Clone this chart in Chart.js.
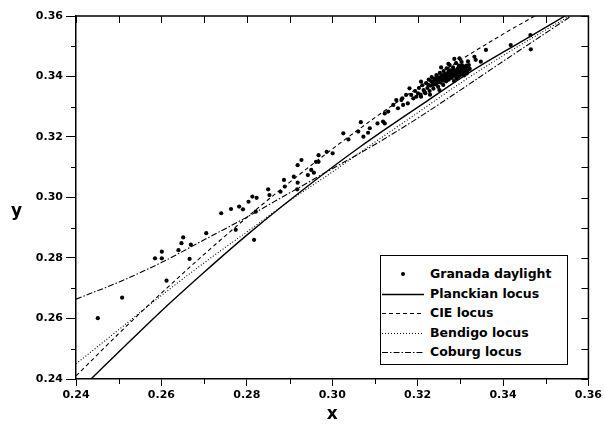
<!DOCTYPE html>
<html>
<head>
<meta charset="utf-8">
<script src="https://cdn.jsdelivr.net/npm/chart.js@4/dist/chart.umd.min.js"></script>
<style>
  html, body { margin: 0; padding: 0; background: #fff; }
  #wrap { position: relative; width: 605px; height: 431px; font-family: "DejaVu Sans", sans-serif; font-weight: bold; color: #000; }
  #yTitle { position: absolute; left: 11px; top: 200px; font-size: 17px; line-height: 20px; }
  #legend { position: absolute; left: 380px; top: 255px; width: 188px; height: 110px; border: 1px solid #000; background: #fff; box-sizing: border-box; }
  #legend .row { position: absolute; left: 0; height: 16px; width: 188px; }
  #legend svg { position: absolute; left: 0; top: 0; }
  #legend span { position: absolute; left: 49px; top: 0; font-size: 12.5px; line-height: 16px; white-space: nowrap; }
</style>
</head>
<body>
<div id="wrap">
  <canvas id="chart" width="605" height="431"></canvas>
  <div id="yTitle">y</div>
  <div id="legend"></div>
</div>
<script>
// axis ticks
const X_MAJOR = [0.24, 0.26, 0.28, 0.30, 0.32, 0.34, 0.36];
const X_MINOR = [0.25, 0.27, 0.29, 0.31, 0.33, 0.35];
const Y_MAJOR = [0.24, 0.26, 0.28, 0.30, 0.32, 0.34, 0.36];
const Y_MINOR = [0.25, 0.27, 0.29, 0.31, 0.33, 0.35];

const daylightX = [
  0.2451, 0.2508, 0.2585, 0.2601, 0.2601, 0.2612, 0.2640, 0.2647, 0.2651, 0.2669,
  0.2666, 0.2705, 0.2740, 0.2763, 0.2774, 0.2782, 0.2791, 0.2804, 0.2813, 0.2817,
  0.2821, 0.2823, 0.2850, 0.2853, 0.2879, 0.2887, 0.2889, 0.2910, 0.2918, 0.2919,
  0.2919, 0.2928, 0.2943, 0.2951, 0.2957, 0.2962, 0.2968, 0.2968, 0.2987, 0.3001,
  0.3026, 0.3038, 0.3061, 0.3067, 0.3073, 0.3084, 0.3088, 0.3106, 0.3119, 0.3123,
  0.3123, 0.3131, 0.3143, 0.3150, 0.3154, 0.3162, 0.3164, 0.3166, 0.3173, 0.3177,
  0.3181, 0.3185, 0.3197, 0.3201, 0.3208, 0.3208, 0.3216, 0.3190, 0.3194, 0.3203,
  0.3207, 0.3211, 0.3214, 0.3218, 0.3220, 0.3223, 0.3226, 0.3228, 0.3229, 0.3230,
  0.3233, 0.3235, 0.3237, 0.3240, 0.3242, 0.3244, 0.3246, 0.3248, 0.3250, 0.3251,
  0.3252, 0.3254, 0.3255, 0.3256, 0.3258, 0.3260, 0.3261, 0.3263, 0.3265, 0.3267,
  0.3268, 0.3270, 0.3272, 0.3272, 0.3273, 0.3275, 0.3277, 0.3278, 0.3280, 0.3282,
  0.3283, 0.3285, 0.3286, 0.3287, 0.3288, 0.3290, 0.3291, 0.3293, 0.3294, 0.3296,
  0.3297, 0.3298, 0.3299, 0.3300, 0.3302, 0.3303, 0.3305, 0.3306, 0.3308, 0.3309,
  0.3311, 0.3313, 0.3315, 0.3317, 0.3318, 0.3320, 0.3322, 0.3333, 0.3336, 0.3348,
  0.3360, 0.3418, 0.3464, 0.3465,
  0.3245, 0.3249, 0.3253, 0.3257, 0.3259, 0.3262, 0.3264, 0.3266, 0.3269, 0.3271,
  0.3274, 0.3276, 0.3279, 0.3281, 0.3284, 0.3289, 0.3292, 0.3295, 0.3301, 0.3304,
  0.3307, 0.3310, 0.3236, 0.3239, 0.3243, 0.3314, 0.3316, 0.3319, 0.3225, 0.3232
];
const daylightY = [
  0.2601, 0.2669, 0.2799, 0.2799, 0.2821, 0.2725, 0.2826, 0.2849, 0.2868, 0.2844,
  0.2797, 0.2882, 0.2948, 0.2962, 0.2893, 0.2970, 0.2961, 0.2986, 0.3003, 0.2860,
  0.2953, 0.2999, 0.3027, 0.3008, 0.3019, 0.3058, 0.3036, 0.3069, 0.3027, 0.3107,
  0.3049, 0.3124, 0.3074, 0.3091, 0.3082, 0.3118, 0.3140, 0.3118, 0.3151, 0.3146,
  0.3212, 0.3192, 0.3218, 0.3249, 0.3201, 0.3214, 0.3229, 0.3245, 0.3251, 0.3245,
  0.3278, 0.3284, 0.3306, 0.3322, 0.3295, 0.3322, 0.3328, 0.3306, 0.3339, 0.3311,
  0.3361, 0.3339, 0.3333, 0.3344, 0.3333, 0.3383, 0.3350, 0.3328, 0.3352, 0.3362,
  0.3340, 0.3371, 0.3355, 0.3345, 0.3378, 0.3362, 0.3390, 0.3352, 0.3340, 0.3370,
  0.3398, 0.3381, 0.3360, 0.3392, 0.3374, 0.3405, 0.3385, 0.3366, 0.3397, 0.3355,
  0.3412, 0.3380, 0.3430, 0.3402, 0.3390, 0.3372, 0.3418, 0.3396, 0.3408, 0.3384,
  0.3427, 0.3400, 0.3414, 0.3442, 0.3390, 0.3438, 0.3405, 0.3420, 0.3395, 0.3410,
  0.3430, 0.3385, 0.3458, 0.3402, 0.3418, 0.3444, 0.3394, 0.3412, 0.3427, 0.3400,
  0.3436, 0.3460, 0.3415, 0.3405, 0.3426, 0.3448, 0.3410, 0.3420, 0.3433, 0.3404,
  0.3415, 0.3428, 0.3410, 0.3421, 0.3450, 0.3438, 0.3425, 0.3465, 0.3455, 0.3449,
  0.3488, 0.3504, 0.3537, 0.3490,
  0.3378, 0.3392, 0.3388, 0.3395, 0.3405, 0.3386, 0.3402, 0.3395, 0.3410, 0.3393,
  0.3420, 0.3398, 0.3412, 0.3404, 0.3422, 0.3407, 0.3420, 0.3413, 0.3417, 0.3437,
  0.3424, 0.3422, 0.3372, 0.3388, 0.3395, 0.3436, 0.3418, 0.3430, 0.3372, 0.3384
];

// loci
const planckX = [0.2435, 0.2500, 0.2600, 0.2700, 0.2807, 0.2952, 0.3064, 0.3135, 0.3221, 0.3330, 0.3451, 0.3545];
const planckY = [0.2400, 0.2489, 0.2625, 0.2753, 0.2884, 0.3048, 0.3166, 0.3236, 0.3318, 0.3421, 0.3522, 0.3600];
const cieX = [0.2400, 0.2500, 0.2600, 0.2700, 0.2800, 0.2900, 0.3000, 0.3100, 0.3200, 0.3300, 0.3400, 0.3474];
const cieY = [0.2410, 0.2550, 0.2684, 0.2812, 0.2934, 0.3050, 0.3160, 0.3264, 0.3362, 0.3454, 0.3540, 0.3600];
const bendigoX = [0.2400, 0.2500, 0.2600, 0.2700, 0.2800, 0.2900, 0.3000, 0.3100, 0.3200, 0.3300, 0.3400, 0.3555];
const bendigoY = [0.2450, 0.2563, 0.2676, 0.2784, 0.2886, 0.2989, 0.3084, 0.3183, 0.3280, 0.3378, 0.3469, 0.3600];
const coburgX = [0.2400, 0.2500, 0.2600, 0.2700, 0.2800, 0.2900, 0.3000, 0.3100, 0.3200, 0.3300, 0.3400, 0.3560];
const coburgY = [0.2664, 0.2720, 0.2785, 0.2860, 0.2935, 0.3015, 0.3095, 0.3175, 0.3262, 0.3355, 0.3450, 0.3600];

const FONT = 'DejaVu Sans';
const zip = (xs, ys) => xs.map((v, i) => ({ x: v, y: ys[i] }));

function lineSet(label, xs, ys, dash, width) {
  return {
    label,
    data: zip(xs, ys),
    showLine: true,
    borderColor: '#000',
    borderWidth: width || 1,
    borderDash: dash,
    pointRadius: 0,
    cubicInterpolationMode: 'monotone',
    fill: false
  };
}

const datasets = [
  {
    label: 'Granada daylight',
    data: zip(daylightX, daylightY),
    pointRadius: 2.1,
    pointBackgroundColor: '#000',
    pointBorderWidth: 0,
    showLine: false
  },
  lineSet('Planckian locus', planckX, planckY, [], 1.4),
  lineSet('CIE locus', cieX, cieY, [4, 3], 1.1),
  lineSet('Bendigo locus', bendigoX, bendigoY, [1, 2], 1.1),
  lineSet('Coburg locus', coburgX, coburgY, [6, 2, 1.5, 2], 1.1)
];

// top/right frame, inward ticks there, and short minor ticks outside
const framePlugin = {
  id: 'frame',
  afterDraw(chart) {
    const { ctx, chartArea: a, scales: { x, y } } = chart;
    ctx.save();
    ctx.strokeStyle = '#000';
    ctx.lineWidth = 1.5;
    ctx.beginPath();
    ctx.moveTo(a.left, a.top);
    ctx.lineTo(a.right, a.top);
    ctx.lineTo(a.right, a.bottom);
    ctx.stroke();
    ctx.lineWidth = 1;
    ctx.beginPath();
    X_MAJOR.concat(X_MINOR).forEach((v) => {
      const px = Math.round(x.getPixelForValue(v)) + 0.5;
      ctx.moveTo(px, a.top); ctx.lineTo(px, a.top + 7);
    });
    X_MINOR.forEach((v) => {
      const px = Math.round(x.getPixelForValue(v)) + 0.5;
      ctx.moveTo(px, a.bottom); ctx.lineTo(px, a.bottom + 5);
    });
    Y_MAJOR.concat(Y_MINOR).forEach((v) => {
      const py = Math.round(y.getPixelForValue(v)) + 0.5;
      ctx.moveTo(a.right, py); ctx.lineTo(a.right - 7, py);
    });
    Y_MINOR.forEach((v) => {
      const py = Math.round(y.getPixelForValue(v)) + 0.5;
      ctx.moveTo(a.left, py); ctx.lineTo(a.left - 5, py);
    });
    ctx.stroke();
    ctx.restore();
  }
};

new Chart(document.getElementById('chart'), {
  type: 'scatter',
  data: { datasets },
  options: {
    responsive: false,
    animation: false,
    devicePixelRatio: 1,
    layout: { padding: { top: 16, right: 13, left: 0, bottom: 0 } },
    plugins: { legend: { display: false }, tooltip: { enabled: false } },
    scales: {
      x: {
        type: 'linear',
        min: 0.24,
        max: 0.36,
        afterFit: (s) => { s.height = 52; },
        afterBuildTicks: (s) => { s.ticks = X_MAJOR.map((v) => ({ value: v })); },
        ticks: { callback: (v) => Number(v).toFixed(2), color: '#000', padding: 3, maxRotation: 0,
                 font: { family: FONT, size: 11, weight: 'bold' } },
        grid: { drawOnChartArea: false, tickLength: 7, color: '#000' },
        border: { color: '#000', width: 1.5 },
        title: { display: true, text: 'x', color: '#000', padding: { top: 0, bottom: 6 },
                 font: { family: FONT, size: 17, weight: 'bold' } }
      },
      y: {
        type: 'linear',
        min: 0.24,
        max: 0.36,
        afterFit: (s) => { s.width = 76; },
        afterBuildTicks: (s) => { s.ticks = Y_MAJOR.map((v) => ({ value: v })); },
        ticks: { callback: (v) => Number(v).toFixed(2), color: '#000', padding: 3,
                 font: { family: FONT, size: 11, weight: 'bold' } },
        grid: { drawOnChartArea: false, tickLength: 10, color: '#000' },
        border: { color: '#000', width: 1.5 }
      }
    }
  },
  plugins: [framePlugin]
});

// legend box inside the plot
const legendRows = [
  { label: 'Granada daylight', kind: 'dot' },
  { label: 'Planckian locus', dash: '', w: 1.4 },
  { label: 'CIE locus', dash: '4 3', w: 1.1 },
  { label: 'Bendigo locus', dash: '1 2', w: 1.1 },
  { label: 'Coburg locus', dash: '6 2 1.5 2', w: 1.1 }
];
const rowCenters = [17.5, 37.5, 57, 76.5, 96];
document.getElementById('legend').innerHTML = legendRows.map((r, i) => {
  const mark = r.kind === 'dot'
    ? '<circle cx="22" cy="8" r="2" fill="#000"/>'
    : `<line x1="1" y1="8.5" x2="43" y2="8.5" stroke="#000" stroke-width="${r.w}" stroke-dasharray="${r.dash}"/>`;
  return `<div class="row" style="top:${rowCenters[i] - 8}px">
    <svg width="46" height="16">${mark}</svg>
    <span>${r.label}</span>
  </div>`;
}).join('');
</script>
</body>
</html>
